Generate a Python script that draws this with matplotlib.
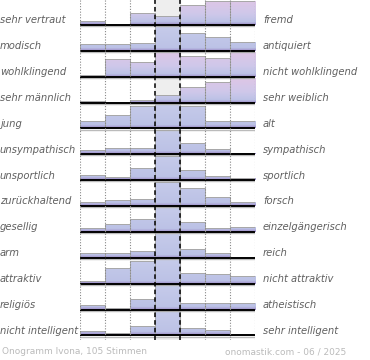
import numpy as np
import matplotlib
matplotlib.use("Agg")
import matplotlib.pyplot as plt
from matplotlib.colors import LinearSegmentedColormap
from matplotlib.patches import Rectangle

# left / right pole of each scale
left_labels = ["sehr vertraut", "modisch", "wohlklingend", "sehr männlich", "jung",
               "unsympathisch", "unsportlich", "zurückhaltend", "gesellig", "arm",
               "attraktiv", "religiös", "nicht intelligent"]
right_labels = ["fremd", "antiquiert", "nicht wohlklingend", "sehr weiblich", "alt",
                "sympathisch", "sportlich", "forsch", "einzelgängerisch", "reich",
                "nicht attraktiv", "atheistisch", "sehr intelligent"]

# bar heights per row (7 bins, 1.0 = full row)
heights = [
    [0.18, 0.05, 0.48, 0.37, 0.82, 0.97, 0.99],
    [0.27, 0.27, 0.34, 1.00, 0.72, 0.57, 0.38],
    [0.07, 0.73, 0.61, 1.00, 0.84, 0.76, 1.00],
    [0.07, 0.00, 0.12, 0.30, 0.65, 0.86, 1.00],
    [0.31, 0.57, 0.92, 1.00, 0.92, 0.30, 0.30],
    [0.19, 0.27, 0.27, 1.00, 0.48, 0.22, 0.07],
    [0.23, 0.14, 0.48, 1.00, 0.41, 0.16, 0.08],
    [0.16, 0.26, 0.30, 1.00, 0.75, 0.37, 0.18],
    [0.16, 0.34, 0.55, 1.00, 0.42, 0.16, 0.22],
    [0.20, 0.20, 0.29, 1.00, 0.35, 0.18, 0.00],
    [0.13, 0.64, 0.93, 1.00, 0.44, 0.40, 0.30],
    [0.18, 0.06, 0.45, 1.00, 0.26, 0.26, 0.26],
    [0.18, 0.12, 0.37, 1.00, 0.31, 0.23, 0.00],
]
pink_rows = [0, 2, 3]

footer_left = "Onogramm Ivona, 105 Stimmen"
footer_right = "onomastik.com - 06 / 2025"

n = len(heights)
row_max = 0.947

fig = plt.figure(figsize=(3.7, 3.6), dpi=100)
ax = fig.add_axes([80 / 370, 20 / 360, 175.5 / 370, 340 / 360])
ax.set_xlim(0, 7)
ax.set_ylim(-0.174, 12.966)
ax.axis("off")

blue_cm = LinearSegmentedColormap.from_list("b", [(0, "#9a88c4"), (0.12, "#bcc2e6"), (1, "#c6cbea")])
pink_cm = LinearSegmentedColormap.from_list("p", [(0, "#9a88c4"), (0.12, "#bcc2e6"), (0.45, "#cfc8ea"), (1, "#dec6e6")])
grad = np.linspace(0, 1, 64).reshape(-1, 1)

# grey centre column
ax.axvspan(3, 4, color="#eeeeee", zorder=0)

for i, row in enumerate(heights):
    base = n - 1 - i
    cm = pink_cm if i in pink_rows else blue_cm
    for j, h in enumerate(row):
        if h <= 0:
            continue
        top = base + h * row_max
        im = ax.imshow(grad, cmap=cm, origin="lower", aspect="auto",
                       extent=(j, j + 1, base, base + row_max), zorder=2,
                       interpolation="bilinear")
        rect = Rectangle((j, base), 1, h * row_max, transform=ax.transData)
        im.set_clip_path(rect)
        ax.plot([j, j, j + 1, j + 1], [base, top, top, base], color="#a8a8a8", lw=0.7, zorder=3)
    ax.plot([0, 7.02], [base - 0.04, base - 0.04], color="#bbbbbb", lw=1.0, zorder=3)
    ax.plot([0, 7.02], [base, base], color="black", lw=1.4, zorder=4)
    ax.text(-3.2, base + 0.18, left_labels[i], ha="left", va="center", style="italic",
            fontsize=7.2, color="#606060", clip_on=False)
    ax.text(7.3, base + 0.18, right_labels[i], ha="left", va="center", style="italic",
            fontsize=7.2, color="#606060", clip_on=False)

for x in [0, 1, 2, 5, 6, 7]:
    ax.axvline(x, color="#888888", lw=0.8, ls=(0, (1, 1.5)), zorder=5)
for x in [3, 4]:
    ax.axvline(x, color="black", lw=1.1, ls=(0, (3, 2)), zorder=5)

fig.text(2 / 370, 1 - 352 / 360, footer_left, ha="left", va="center", fontsize=6.5, color="#bbbbbb")
fig.text(346 / 370, 1 - 352 / 360, footer_right, ha="right", va="center", fontsize=6.5, color="#bbbbbb")

fig.savefig("out.png", dpi=100)
